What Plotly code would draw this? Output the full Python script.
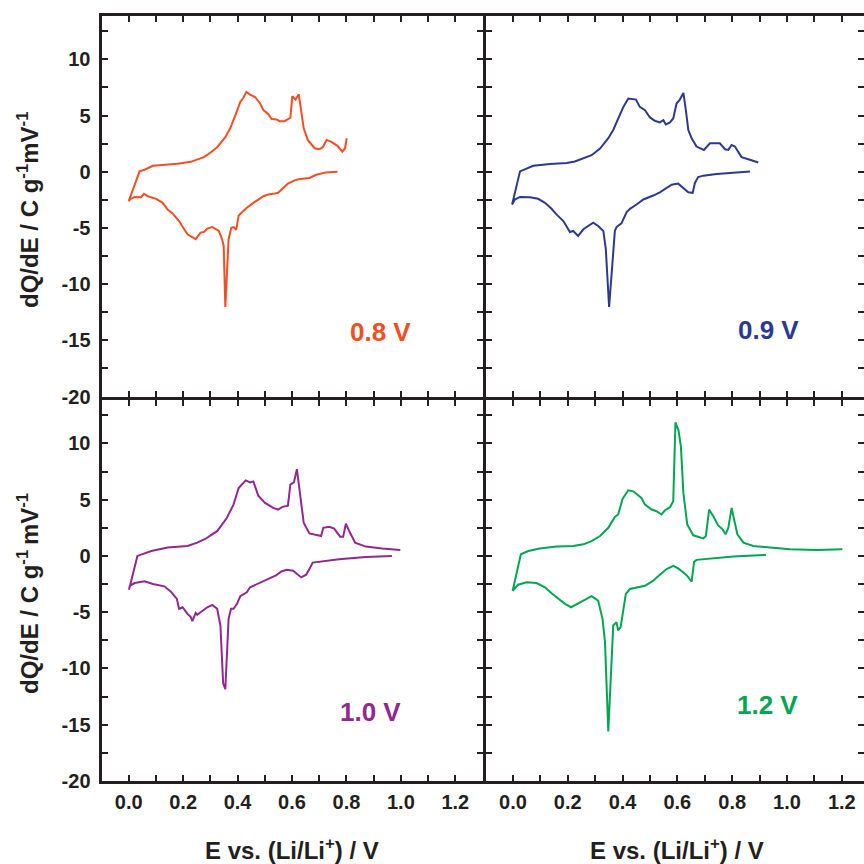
import plotly.graph_objects as go

# ---------------- data ----------------
# 0.8 V cut-off (orange) : cathodic branch (high E -> 0) then anodic branch (0 -> high E)
E_08 = [0.767, 0.725, 0.689, 0.664, 0.628, 0.610, 0.585, 0.561, 0.549, 0.531, 0.513, 0.495, 0.476,
        0.458, 0.434, 0.410, 0.404, 0.395, 0.386, 0.377, 0.367, 0.355, 0.349, 0.343, 0.331, 0.307,
        0.289, 0.276, 0.264, 0.246, 0.216, 0.204, 0.185, 0.161, 0.143, 0.125, 0.101, 0.070, 0.056,
        0.046, 0.022, 0.004, 0.000,
        0.040, 0.058, 0.089, 0.131, 0.180, 0.228, 0.252, 0.276, 0.301, 0.325, 0.355, 0.373, 0.392,
        0.410, 0.422, 0.432, 0.446, 0.464, 0.483, 0.495, 0.513, 0.525, 0.543, 0.555, 0.573, 0.594,
        0.601, 0.613, 0.625, 0.634, 0.643, 0.658, 0.683, 0.701, 0.713, 0.727, 0.743, 0.767, 0.785,
        0.795, 0.801]
dQ_08 = [0.00, -0.06, -0.27, -0.56, -0.65, -0.77, -1.06, -1.59, -1.88, -1.97, -2.03, -2.18, -2.47,
         -2.77, -3.21, -3.71, -3.89, -5.18, -4.92, -4.98, -6.00, -12.04, -6.60, -6.00, -5.27, -4.92,
         -5.06, -5.36, -5.42, -6.00, -5.57, -5.12, -4.39, -3.71, -3.36, -2.77, -2.41, -2.18, -1.97,
         -2.27, -2.24, -2.47, -2.62,
         0.03, 0.18, 0.53, 0.62, 0.71, 0.88, 1.12, 1.30, 1.71, 2.18, 3.07, 3.86, 5.04,
         6.21, 6.60, 7.10, 6.86, 6.65, 6.07, 5.48, 5.12, 4.68, 4.65, 4.50, 4.50, 4.80,
         6.71, 6.42, 6.89, 5.48, 3.86, 2.83, 2.09, 2.00, 2.18, 2.83, 2.68, 2.30, 1.79,
         2.09, 2.98]

# 0.9 V cut-off (blue)
E_09 = [0.865, 0.804, 0.743, 0.695, 0.676, 0.664, 0.656, 0.640, 0.622, 0.603, 0.579, 0.561, 0.536,
        0.512, 0.476, 0.451, 0.427, 0.415, 0.396, 0.378, 0.372, 0.351, 0.339, 0.330, 0.311, 0.293,
        0.275, 0.257, 0.238, 0.220, 0.208, 0.196, 0.184, 0.159, 0.141, 0.117, 0.092, 0.062, 0.026,
        0.007, -0.003,
        0.026, 0.044, 0.074, 0.135, 0.196, 0.226, 0.257, 0.287, 0.318, 0.348, 0.366, 0.390, 0.403,
        0.421, 0.449, 0.463, 0.482, 0.500, 0.518, 0.536, 0.549, 0.558, 0.573, 0.585, 0.597, 0.609,
        0.622, 0.631, 0.640, 0.652, 0.670, 0.697, 0.719, 0.755, 0.774, 0.786, 0.798, 0.810, 0.834,
        0.865, 0.895]
dQ_09 = [0.03, -0.06, -0.20, -0.35, -0.47, -1.00, -1.88, -1.83, -1.44, -1.06, -1.15, -1.44, -1.83,
         -2.12, -2.47, -2.92, -3.30, -3.59, -4.59, -4.92, -5.27, -12.04, -6.89, -5.27, -4.83, -4.53,
         -4.83, -5.12, -5.71, -5.27, -5.36, -4.83, -4.39, -3.80, -3.30, -2.77, -2.41, -2.27, -2.24,
         -2.47, -2.92,
         0.03, 0.24, 0.53, 0.68, 0.77, 0.91, 1.18, 1.47, 2.06, 2.98, 3.71, 5.04, 5.77,
         6.51, 6.42, 5.77, 5.48, 4.83, 4.53, 4.39, 4.59, 4.21, 4.39, 4.74, 6.07, 6.42,
         7.01, 5.48, 3.71, 2.98, 2.24, 1.94, 2.53, 2.53, 2.00, 1.94, 2.38, 2.24, 1.30,
         1.06, 0.82]

# 1.0 V cut-off (purple)
E_10 = [0.967, 0.871, 0.773, 0.676, 0.664, 0.652, 0.634, 0.622, 0.604, 0.580, 0.561, 0.543, 0.507,
        0.471, 0.446, 0.434, 0.410, 0.398, 0.385, 0.376, 0.367, 0.355, 0.347, 0.337, 0.325, 0.307,
        0.289, 0.264, 0.252, 0.246, 0.234, 0.228, 0.216, 0.198, 0.185, 0.177, 0.155, 0.131, 0.089,
        0.058, 0.022, 0.004, 0.001,
        0.032, 0.058, 0.083, 0.143, 0.216, 0.252, 0.283, 0.301, 0.325, 0.361, 0.385, 0.404, 0.430,
        0.446, 0.458, 0.476, 0.501, 0.531, 0.549, 0.565, 0.585, 0.594, 0.607, 0.618, 0.628, 0.643,
        0.664, 0.707, 0.715, 0.737, 0.755, 0.777, 0.788, 0.798, 0.812, 0.832, 0.871, 0.931, 0.998]
dQ_10 = [0.00, -0.09, -0.29, -0.59, -1.17, -1.67, -1.91, -1.67, -1.32, -1.23, -1.38, -1.70, -2.12,
         -2.50, -2.79, -3.23, -3.58, -4.26, -4.70, -4.70, -5.59, -11.85, -11.32, -6.18, -4.70, -4.35,
         -4.56, -5.00, -5.23, -5.06, -5.79, -5.44, -5.15, -4.56, -4.70, -3.82, -3.18, -2.70, -2.50,
         -2.26, -2.41, -2.65, -3.00,
         0.00, 0.24, 0.44, 0.74, 0.88, 1.18, 1.53, 1.82, 2.20, 3.39, 4.56, 6.03, 6.71,
         6.53, 6.62, 5.36, 4.71, 4.27, 4.12, 4.36, 4.47, 6.33, 6.53, 7.71, 5.60, 2.95,
         2.00, 1.77, 2.50, 2.59, 2.42, 1.71, 1.71, 2.86, 2.12, 1.18, 0.83, 0.65, 0.53]

# 1.2 V cut-off (green)
E_12 = [0.923, 0.804, 0.670, 0.661, 0.652, 0.636, 0.622, 0.603, 0.585, 0.561, 0.536, 0.512, 0.482,
        0.457, 0.427, 0.412, 0.409, 0.393, 0.384, 0.378, 0.366, 0.360, 0.348, 0.336, 0.327, 0.311,
        0.287, 0.257, 0.232, 0.212, 0.190, 0.165, 0.141, 0.117, 0.086, 0.050, 0.019, -0.001,
        0.029, 0.056, 0.098, 0.159, 0.220, 0.257, 0.287, 0.318, 0.348, 0.372, 0.384, 0.400, 0.421,
        0.439, 0.457, 0.469, 0.482, 0.506, 0.524, 0.542, 0.555, 0.573, 0.585, 0.593, 0.604, 0.613,
        0.622, 0.636, 0.658, 0.695, 0.704, 0.716, 0.731, 0.749, 0.765, 0.776, 0.786, 0.798, 0.807,
        0.819, 0.841, 0.877, 0.938, 1.011, 1.108, 1.202]
dQ_12 = [0.09, -0.05, -0.35, -0.53, -2.29, -1.77, -1.47, -1.11, -0.88, -1.17, -1.67, -2.20, -2.65,
         -2.79, -2.94, -3.38, -3.82, -6.32, -6.62, -5.88, -6.18, -9.12, -15.59, -7.65, -5.59, -3.97,
         -3.58, -3.97, -4.26, -4.56, -4.26, -3.82, -3.32, -2.79, -2.41, -2.35, -2.56, -3.09,
         0.15, 0.44, 0.65, 0.83, 0.88, 1.03, 1.32, 1.77, 2.50, 3.47, 3.68, 5.06, 5.83,
         5.74, 5.36, 5.15, 4.56, 4.12, 3.97, 3.68, 4.06, 4.33, 4.85, 11.86, 11.18, 9.71,
         5.60, 2.80, 1.83, 1.56, 1.77, 4.12, 3.53, 2.71, 2.36, 1.92, 2.50, 4.27, 3.24,
         1.92, 1.18, 0.88, 0.74, 0.59, 0.53, 0.59]

panel_labels = ["0.8 V", "0.9 V", "1.0 V", "1.2 V"]
x_tick_vals = [0.0, 0.2, 0.4, 0.6, 0.8, 1.0, 1.2]
x_tick_text = ["0.0", "0.2", "0.4", "0.6", "0.8", "1.0", "1.2"]
x_minor_vals = [0.1, 0.3, 0.5, 0.7, 0.9, 1.1]
y_tick_vals = [-20, -15, -10, -5, 0, 5, 10]
y_tick_text = ["-20", "-15", "-10", "-5", "0", "5", "10"]
y_minor_vals = [-17.5, -12.5, -7.5, -2.5, 2.5, 7.5, 12.5]

# ---------------- styling ----------------
W = H = 864
INK = "#231f20"
colors = ["#f04e23", "#2b3990", "#92278f", "#00a651"]
FONT = "Liberation Sans, Arial, Helvetica, sans-serif"
LW = 3

def px_x(p):
    return p / W

def px_y(p):
    return 1 - p / H

x_dom_left = [px_x(101.5), px_x(482.5)]
x_dom_right = [px_x(485.5), 1.0]
y_dom_top = [px_y(396.5), px_y(15.5)]
y_dom_bot = [px_y(781.0), px_y(399.5)]

series = [(E_08, dQ_08), (E_09, dQ_09), (E_10, dQ_10), (E_12, dQ_12)]

fig = go.Figure()
for i, (ex, ey) in enumerate(series):
    fig.add_trace(go.Scatter(
        x=ex, y=ey, mode="lines",
        line=dict(color=colors[i], width=2),
        xaxis="x" if i == 0 else f"x{i+1}",
        yaxis="y" if i == 0 else f"y{i+1}",
        showlegend=False, hoverinfo="skip"))

tickfont = dict(family=FONT, size=20, color=INK, weight="bold")

def xaxis_cfg(dom, anchor, rng, labels):
    return dict(domain=dom, anchor=anchor, range=rng, automargin=False,
                tickmode="array", tickvals=x_tick_vals, ticktext=x_tick_text,
                showticklabels=labels, tickfont=tickfont, ticklabelstandoff=1,
                ticks="inside", ticklen=6, tickwidth=2, tickcolor=INK,
                minor=dict(tickmode="array", tickvals=x_minor_vals, ticks="inside",
                           ticklen=6, tickwidth=2, tickcolor=INK),
                showline=True, linewidth=LW, linecolor=INK, mirror="ticks",
                showgrid=False, zeroline=False, fixedrange=True)

def yaxis_cfg(dom, anchor, labels):
    return dict(domain=dom, anchor=anchor, range=[-20, 13.9], automargin=False,
                tickmode="array", tickvals=y_tick_vals, ticktext=y_tick_text,
                showticklabels=labels, tickfont=tickfont, ticklabelstandoff=4,
                ticks="inside", ticklen=6, tickwidth=2, tickcolor=INK,
                minor=dict(tickmode="array", tickvals=y_minor_vals, ticks="inside",
                           ticklen=6, tickwidth=2, tickcolor=INK),
                showline=True, linewidth=LW, linecolor=INK, mirror="ticks",
                showgrid=False, zeroline=False, fixedrange=True)

x_left_rng = [-0.1, 1.3]
x_right_rng = [-0.1, 1.281]

fig.update_layout(
    width=W, height=H,
    margin=dict(l=0, r=0, t=0, b=0, autoexpand=False),
    paper_bgcolor="white", plot_bgcolor="white",
    xaxis=xaxis_cfg(x_dom_left, "y", x_left_rng, False),
    yaxis=yaxis_cfg(y_dom_top, "x", True),
    xaxis2=xaxis_cfg(x_dom_right, "y2", x_right_rng, False),
    yaxis2=yaxis_cfg(y_dom_top, "x2", False),
    xaxis3=xaxis_cfg(x_dom_left, "y3", x_left_rng, True),
    yaxis3=yaxis_cfg(y_dom_bot, "x3", True),
    xaxis4=xaxis_cfg(x_dom_right, "y4", x_right_rng, True),
    yaxis4=yaxis_cfg(y_dom_bot, "x4", False),
)

ann = []
label_pos = [(380, 332), (768, 330), (370, 712), (767, 705)]
for i, (lx, ly) in enumerate(label_pos):
    ann.append(dict(x=px_x(lx), y=px_y(ly), xref="paper", yref="paper",
                    text=panel_labels[i], showarrow=False, xanchor="center", yanchor="middle",
                    font=dict(family=FONT, size=26, color=colors[i], weight="bold")))

title_font = dict(family=FONT, size=24, color=INK, weight="bold")
ann.append(dict(x=px_x(28), y=px_y(210), xref="paper", yref="paper", textangle=-90,
                text="dQ/dE / C g<sup>-1</sup>mV<sup>-1</sup>", showarrow=False,
                xanchor="center", yanchor="middle", font=title_font))
ann.append(dict(x=px_x(28), y=px_y(594), xref="paper", yref="paper", textangle=-90,
                text="dQ/dE / C g<sup>-1 </sup>mV<sup>-1</sup>", showarrow=False,
                xanchor="center", yanchor="middle", font=title_font))
ann.append(dict(x=px_x(292), y=px_y(849), xref="paper", yref="paper",
                text="E vs. (Li/Li<sup>+</sup>) / V", showarrow=False,
                xanchor="center", yanchor="middle", font=title_font))
ann.append(dict(x=px_x(677), y=px_y(849), xref="paper", yref="paper",
                text="E vs. (Li/Li<sup>+</sup>) / V", showarrow=False,
                xanchor="center", yanchor="middle", font=title_font))
fig.update_layout(annotations=ann)

fig.write_html("out.html",
               config={"displayModeBar": False},
               post_script="document.body.style.margin='0px';"
                           "document.body.style.overflow='hidden';")
